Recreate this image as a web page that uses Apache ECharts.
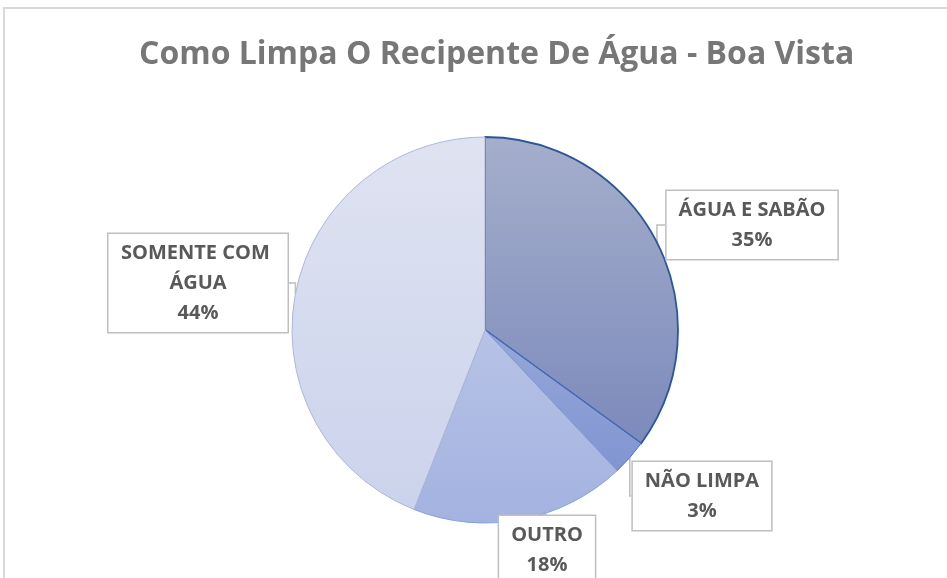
<!DOCTYPE html>
<html>
<head>
<meta charset="utf-8">
<script src="https://cdn.jsdelivr.net/npm/echarts@6/dist/echarts.min.js"></script>
<style>
  html, body { margin: 0; padding: 0; background: #fff; }
  #chart { width: 947px; height: 578px; }
</style>
</head>
<body>
<div id="chart"></div>
<script>
// dados
const titulo = 'Como Limpa O Recipente De Água - Boa Vista'
const categorias = ['ÁGUA E SABÃO', 'NÃO LIMPA', 'OUTRO', 'SOMENTE COM ÁGUA']
const valores = [35, 3, 18, 44]

// estilo de cada fatia: gradiente (topo, base) e borda
const coresTopo = ['#a5aecb', '#96a6d8', '#b7c2e6', '#dfe3f1']
const coresBase = ['#7c8abc', '#8195d2', '#a3b2e0', '#cbd3ec']
const bordas = ['#2e5597', '#4a70c4', '#8aa0db', '#aab7e0']
// centro das caixas de rótulo
const posRotulos = [[752, 225], [702, 496], [547, 550], [198, 283]]

const chart = echarts.init(document.getElementById('chart'))

const option = {
  animation: false,
  graphic: [{
    type: 'rect',
    shape: { x: 4, y: 8, width: 980, height: 620 },
    style: { fill: 'none', stroke: '#d9d9d9', lineWidth: 2 },
    silent: true
  }],
  title: {
    text: titulo,
    left: 134,
    top: 34,
    textStyle: {
      fontFamily: 'Open Sans',
      fontWeight: 'bold',
      fontSize: 32,
      color: '#777777'
    }
  },
  series: [{
    type: 'pie',
    center: [485, 330],
    radius: 193,
    startAngle: 90,
    clockwise: true,
    label: {
      show: true,
      formatter: '{b}\n{d}%',
      fontFamily: 'Open Sans',
      fontWeight: 'bold',
      fontSize: 20,
      lineHeight: 30,
      color: '#595959',
      align: 'center',
      backgroundColor: '#ffffff',
      borderColor: '#bfbfbf',
      borderWidth: 1.5,
      padding: [4, 12, 4, 12]
    },
    labelLine: {
      show: true,
      length: 10,
      length2: 10,
      lineStyle: { color: '#bfbfbf', width: 1.5 }
    },
    labelLayout: (params) => {
      const p = posRotulos[params.dataIndex]
      return { x: p[0], y: p[1], align: 'center', verticalAlign: 'middle' }
    },
    data: categorias.map((nome, i) => ({
      name: nome,
      value: valores[i],
      label: nome === 'SOMENTE COM ÁGUA' ? { width: 155, overflow: 'break' } : {},
      itemStyle: {
        color: {
          type: 'linear', x: 0, y: 0, x2: 0, y2: 1,
          colorStops: [
            { offset: 0, color: coresTopo[i] },
            { offset: 1, color: coresBase[i] }
          ]
        },
        borderColor: bordas[i],
        borderWidth: i === 0 ? 1.8 : 1
      }
    }))
  }]
}

chart.setOption(option)
</script>
</body>
</html>
